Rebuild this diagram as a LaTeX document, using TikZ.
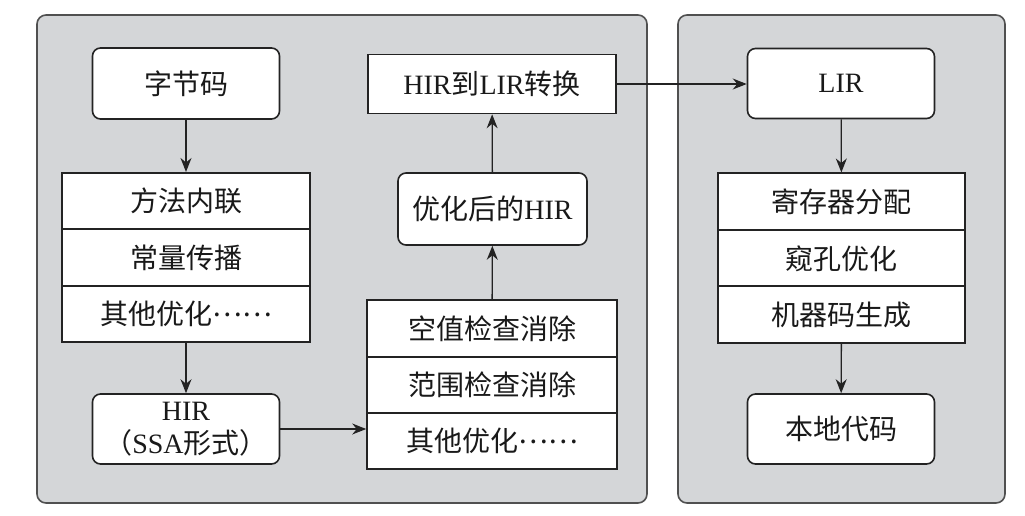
\documentclass[tikz,border=0pt]{standalone}
\usepackage{fontspec}
\setmainfont{Liberation Serif}
\newfontfamily\cjk{Noto Sans CJK SC}
\newcommand\zh[1]{{\cjk #1}}
% ellipsis set at mid-height, as in Chinese typesetting
\newcommand\midellipsis{\raisebox{0.3em}{\zh{……}}}
\usetikzlibrary{arrows.meta}

\definecolor{panelfill}{RGB}{212,214,216}
\definecolor{panelline}{RGB}{80,80,80}
\definecolor{boxline}{RGB}{35,35,35}

\tikzset{
  panel/.style={draw=panelline, line width=1.6pt, fill=panelfill, rounded corners=9pt},
  roundbox/.style={draw=boxline, fill=white, line width=1.6pt, rounded corners=8pt,
    align=center, inner sep=0pt, minimum width=187pt, minimum height=71pt},
  rowbox/.style={draw=boxline, fill=white, line width=1.6pt, inner sep=0pt,
    minimum width=248pt, minimum height=56.5pt},
  flow/.style={draw=boxline, line width=1.3pt, -{Stealth[length=14pt,width=11pt]}},
  every node/.style={font=\fontsize{28}{36}\selectfont, text=black!90}
}

\begin{document}
\begin{tikzpicture}[x=1pt, y=-1pt]
  \useasboundingbox (0,0) rectangle (1025,515);

  % the two stages
  \path[panel] (37,15) rectangle (647,503);
  \path[panel] (678,15) rectangle (1005,503);

  % front end: bytecode to HIR
  \node[roundbox] (bc) at (186,83.5) {\zh{字节码}};
  \node[rowbox] (inl) at (186,201) {\zh{方法内联}};
  \node[rowbox] (cp) at (186,257.5) {\zh{常量传播}};
  \node[rowbox] (oth1) at (186,314) {\zh{其他优化}\midellipsis};
  \node[roundbox, minimum height=70pt] (hir) at (186,429) {HIR\\[-3pt]\zh{（}SSA\zh{形式）}};

  % HIR optimisation
  \node[rowbox, minimum width=250pt] (nce) at (492,328.5) {\zh{空值检查消除}};
  \node[rowbox, minimum width=250pt] (rce) at (492,385) {\zh{范围检查消除}};
  \node[rowbox, minimum width=250pt] (oth2) at (492,441) {\zh{其他优化}\midellipsis};
  \node[roundbox, minimum width=189pt, minimum height=72pt] (opt) at (492.5,209) {\zh{优化后的}HIR};
  \node[rowbox, minimum height=59pt] (conv) at (492,84) {HIR\zh{到}LIR\zh{转换}};

  % back end: LIR to native code
  \node[roundbox, minimum height=70pt] (lir) at (841,83.5) {LIR};
  \node[rowbox, minimum width=247pt] (ra) at (841.5,201.5) {\zh{寄存器分配}};
  \node[rowbox, minimum width=247pt] (ph) at (841.5,258.5) {\zh{窥孔优化}};
  \node[rowbox, minimum width=247pt] (cg) at (841.5,314.5) {\zh{机器码生成}};
  \node[roundbox, minimum height=70pt] (nat) at (841,429) {\zh{本地代码}};

  % connectors
  \draw[flow] (bc) -- (inl);
  \draw[flow] (oth1) -- (hir);
  \draw[flow] (hir.east) -- (hir.east -| oth2.west);
  \draw[flow] (nce) -- (opt);
  \draw[flow] (opt) -- (conv);
  \draw[flow] (conv.east) -- (conv.east -| lir.west);
  \draw[flow] (lir) -- (ra);
  \draw[flow] (cg) -- (nat);
\end{tikzpicture}
\end{document}
